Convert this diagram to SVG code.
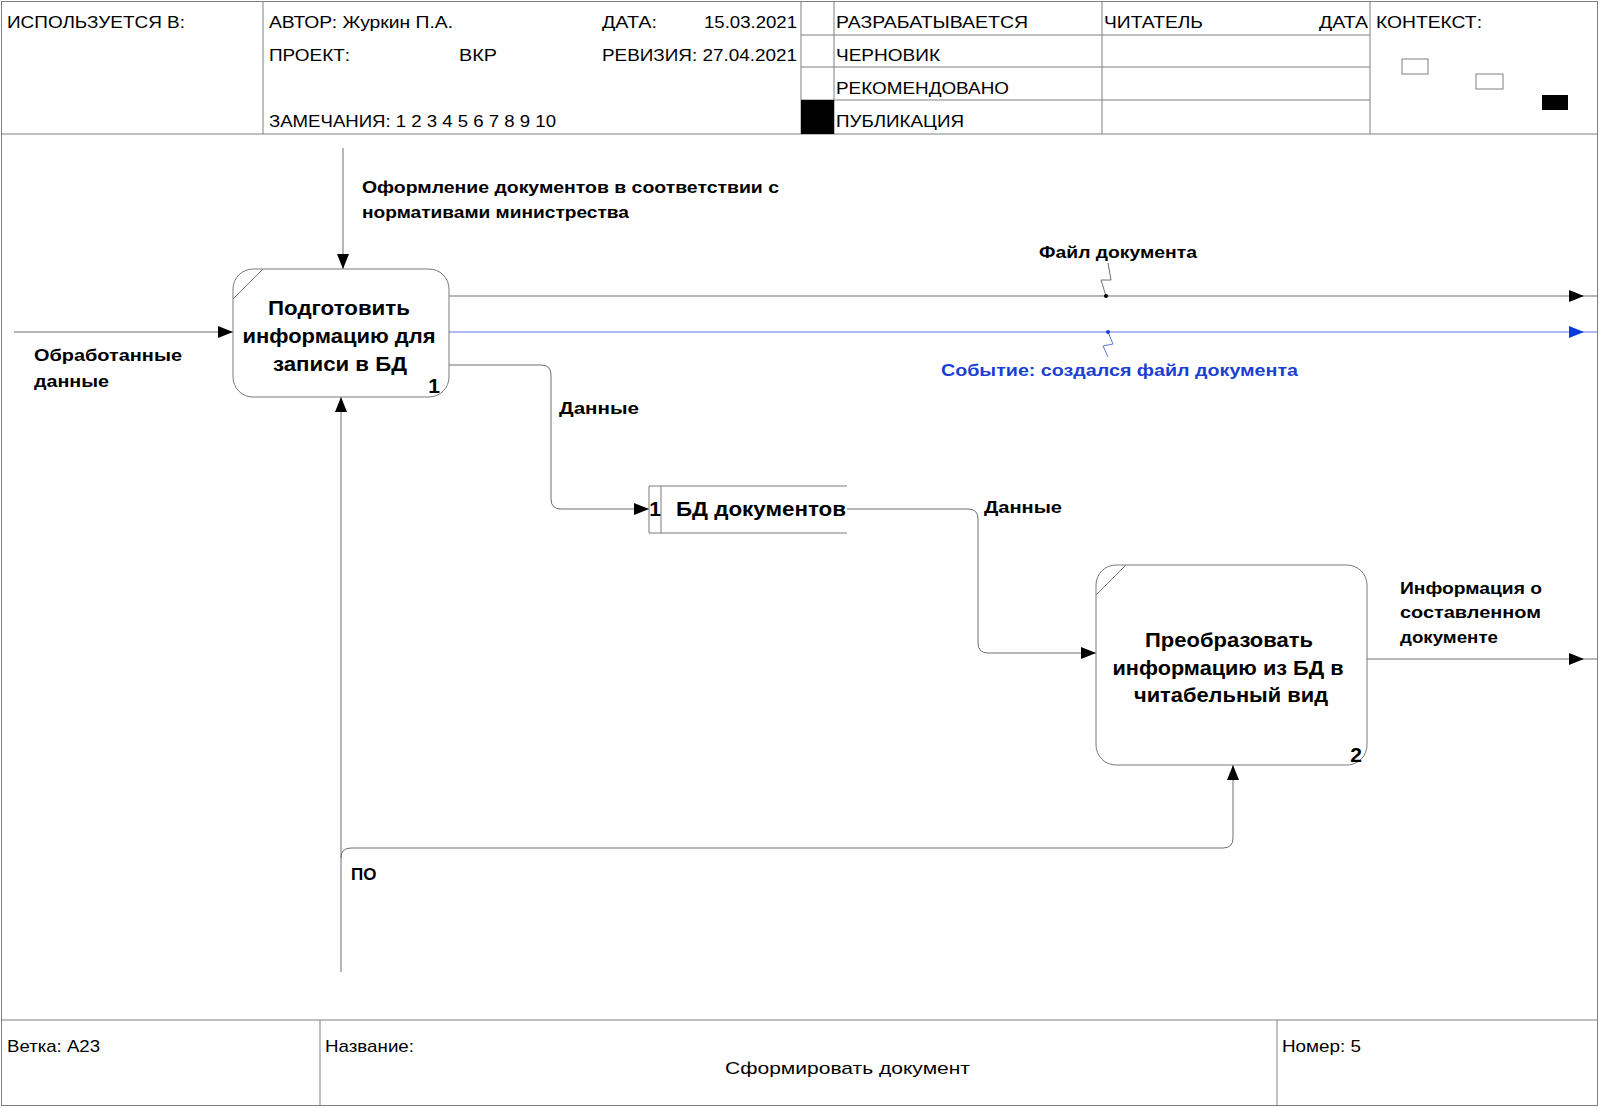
<svg xmlns="http://www.w3.org/2000/svg" width="1600" height="1108" viewBox="0 0 1600 1108">
  <style>
    .frame { fill: none; stroke: #808080; stroke-width: 1; }
    .hdr { font-family: "Liberation Sans", Arial, sans-serif; font-size: 17px; fill: #000; }
    .lbl { font-family: "Liberation Sans", Arial, sans-serif; font-size: 17px; font-weight: bold; fill: #000; }
    .node-text { font-family: "Liberation Sans", Arial, sans-serif; font-size: 21px; font-weight: bold; fill: #000; }
    .box { fill: #fff; stroke: #7a7a7a; stroke-width: 1; }
    .conn { fill: none; stroke: #6e6e6e; stroke-width: 1; }
    .conn-blue { fill: none; stroke: #5a78e6; stroke-width: 1; }
    .blue-lbl { font-family: "Liberation Sans", Arial, sans-serif; font-size: 17px; font-weight: bold; fill: #1a3fd2; }
  </style>
  <defs>
    <marker id="arrow" markerUnits="userSpaceOnUse" markerWidth="15" markerHeight="12" refX="15" refY="6" orient="auto">
      <path d="M0,0 L15,6 L0,12 z" fill="#000"/>
    </marker>
    <marker id="arrow-blue" markerUnits="userSpaceOnUse" markerWidth="15" markerHeight="12" refX="15" refY="6" orient="auto">
      <path d="M0,0 L15,6 L0,12 z" fill="#0b3ad6"/>
    </marker>
  </defs>

  <rect width="1600" height="1108" fill="#fff"/>

  <!-- Form frame: header, working area, footer -->
  <g id="frame">
    <rect class="frame" x="1.5" y="1.5" width="1596" height="1104"/>
    <line class="frame" x1="1" y1="134" x2="1598" y2="134"/>
    <line class="frame" x1="263" y1="1" x2="263" y2="134"/>
    <line class="frame" x1="801" y1="1" x2="801" y2="134"/>
    <line class="frame" x1="834" y1="1" x2="834" y2="134"/>
    <line class="frame" x1="1102" y1="1" x2="1102" y2="134"/>
    <line class="frame" x1="1370" y1="1" x2="1370" y2="134"/>
    <line class="frame" x1="801" y1="35" x2="1370" y2="35"/>
    <line class="frame" x1="801" y1="67" x2="1370" y2="67"/>
    <line class="frame" x1="801" y1="100" x2="1370" y2="100"/>
    <rect x="801" y="100" width="33" height="34" fill="#000"/>
    <rect x="1402" y="59" width="26" height="15" fill="#fff" stroke="#808080"/>
    <rect x="1476" y="74" width="27" height="15" fill="#fff" stroke="#808080"/>
    <rect x="1542" y="95" width="26" height="15" fill="#000"/>
    <line class="frame" x1="1" y1="1020" x2="1598" y2="1020"/>
    <line class="frame" x1="320" y1="1020" x2="320" y2="1106"/>
    <line class="frame" x1="1277" y1="1020" x2="1277" y2="1106"/>
  </g>

  <g id="header-text">
    <text class="hdr" x="7" y="28" textLength="178" lengthAdjust="spacingAndGlyphs">ИСПОЛЬЗУЕТСЯ В:</text>
    <text class="hdr" x="269" y="28" textLength="184" lengthAdjust="spacingAndGlyphs">АВТОР: Журкин П.А.</text>
    <text class="hdr" x="602" y="28" textLength="55" lengthAdjust="spacingAndGlyphs">ДАТА:</text>
    <text class="hdr" x="704" y="28" textLength="93" lengthAdjust="spacingAndGlyphs">15.03.2021</text>
    <text class="hdr" x="269" y="61" textLength="81" lengthAdjust="spacingAndGlyphs">ПРОЕКТ:</text>
    <text class="hdr" x="459" y="61" textLength="38" lengthAdjust="spacingAndGlyphs">ВКР</text>
    <text class="hdr" x="602" y="61" textLength="195" lengthAdjust="spacingAndGlyphs">РЕВИЗИЯ: 27.04.2021</text>
    <text class="hdr" x="269" y="127" textLength="287" lengthAdjust="spacingAndGlyphs">ЗАМЕЧАНИЯ: 1 2 3 4 5 6 7 8 9 10</text>
    <text class="hdr" x="836" y="28" textLength="192" lengthAdjust="spacingAndGlyphs">РАЗРАБАТЫВАЕТСЯ</text>
    <text class="hdr" x="836" y="61" textLength="104" lengthAdjust="spacingAndGlyphs">ЧЕРНОВИК</text>
    <text class="hdr" x="836" y="94" textLength="173" lengthAdjust="spacingAndGlyphs">РЕКОМЕНДОВАНО</text>
    <text class="hdr" x="836" y="127" textLength="128" lengthAdjust="spacingAndGlyphs">ПУБЛИКАЦИЯ</text>
    <text class="hdr" x="1104" y="28" textLength="99" lengthAdjust="spacingAndGlyphs">ЧИТАТЕЛЬ</text>
    <text class="hdr" x="1319" y="28" textLength="49" lengthAdjust="spacingAndGlyphs">ДАТА</text>
    <text class="hdr" x="1376" y="28" textLength="106" lengthAdjust="spacingAndGlyphs">КОНТЕКСТ:</text>
  </g>

  <g id="footer-text">
    <text class="hdr" x="7" y="1052" textLength="93" lengthAdjust="spacingAndGlyphs">Ветка: А23</text>
    <text class="hdr" x="325" y="1052" textLength="89" lengthAdjust="spacingAndGlyphs">Название:</text>
    <text class="hdr" x="725" y="1074" textLength="245" lengthAdjust="spacingAndGlyphs">Сформировать документ</text>
    <text class="hdr" x="1282" y="1052" textLength="79" lengthAdjust="spacingAndGlyphs">Номер: 5</text>
  </g>

  <!-- Connectors -->
  <g id="connectors">
    <!-- control -->
    <path class="conn" d="M343,148 V269" marker-end="url(#arrow)"/>
    <text class="lbl" x="362" y="193" textLength="417" lengthAdjust="spacingAndGlyphs">Оформление документов в соответствии с</text>
    <text class="lbl" x="362" y="218" textLength="267" lengthAdjust="spacingAndGlyphs">нормативами министрества</text>

    <!-- input -->
    <path class="conn" d="M14,332 H233" marker-end="url(#arrow)"/>
    <text class="lbl" x="34" y="361" textLength="148" lengthAdjust="spacingAndGlyphs">Обработанные</text>
    <text class="lbl" x="34" y="387" textLength="75" lengthAdjust="spacingAndGlyphs">данные</text>

    <!-- output: file -->
    <path class="conn" d="M449,296 H1584" marker-end="url(#arrow)"/>
    <path class="conn" d="M1584,296 H1598"/>
    <path class="conn" d="M1106,296 L1101,280 L1111,280 L1108,263"/>
    <circle cx="1106" cy="296" r="2" fill="#000"/>
    <text class="lbl" x="1039" y="258" textLength="158" lengthAdjust="spacingAndGlyphs">Файл документа</text>

    <!-- output: event -->
    <path class="conn-blue" d="M449,332 H1584" marker-end="url(#arrow-blue)"/>
    <path class="conn-blue" d="M1584,332 H1598"/>
    <path class="conn-blue" d="M1108,332 L1113,344 L1103,346 L1108,357"/>
    <circle cx="1108" cy="332" r="2" fill="#1a3fd2"/>
    <text class="blue-lbl" x="941" y="376" textLength="357" lengthAdjust="spacingAndGlyphs">Событие: создался файл документа</text>

    <!-- data into store -->
    <path class="conn" d="M449,365 H541 Q551,365 551,375 V499 Q551,509 561,509 H649" marker-end="url(#arrow)"/>
    <text class="lbl" x="559" y="414" textLength="80" lengthAdjust="spacingAndGlyphs">Данные</text>

    <!-- data out of store -->
    <path class="conn" d="M847,509 H968 Q978,509 978,519 V643 Q978,653 988,653 H1096" marker-end="url(#arrow)"/>
    <text class="lbl" x="984" y="513" textLength="78" lengthAdjust="spacingAndGlyphs">Данные</text>

    <!-- output of activity 2 -->
    <path class="conn" d="M1367,659 H1584" marker-end="url(#arrow)"/>
    <path class="conn" d="M1584,659 H1598"/>
    <text class="lbl" x="1400" y="594" textLength="142" lengthAdjust="spacingAndGlyphs">Информация о</text>
    <text class="lbl" x="1400" y="618" textLength="141" lengthAdjust="spacingAndGlyphs">составленном</text>
    <text class="lbl" x="1400" y="643" textLength="98" lengthAdjust="spacingAndGlyphs">документе</text>

    <!-- mechanism -->
    <path class="conn" d="M341,972 V397" marker-end="url(#arrow)"/>
    <path class="conn" d="M341,858 Q341,848 351,848 H1223 Q1233,848 1233,838 V765" marker-end="url(#arrow)"/>
    <text class="lbl" x="351" y="880">ПО</text>
  </g>

  <!-- Activity 1 -->
  <g id="node-a1">
    <rect class="box" x="233" y="269" width="216" height="128" rx="20" ry="20"/>
    <line class="box" x1="233" y1="299" x2="263" y2="269"/>
    <text class="node-text" x="339" y="315" text-anchor="middle" textLength="142" lengthAdjust="spacingAndGlyphs">Подготовить</text>
    <text class="node-text" x="339" y="343" text-anchor="middle" textLength="193" lengthAdjust="spacingAndGlyphs">информацию для</text>
    <text class="node-text" x="340" y="371" text-anchor="middle" textLength="134" lengthAdjust="spacingAndGlyphs">записи в БД</text>
    <text class="node-text" x="434" y="393" text-anchor="middle">1</text>
  </g>

  <!-- Data store -->
  <g id="node-store">
    <path class="box" d="M847,486 H649 V533 H847"/>
    <line class="box" x1="661" y1="486" x2="661" y2="533"/>
    <text class="node-text" x="655" y="516" text-anchor="middle">1</text>
    <text class="node-text" x="676" y="516" textLength="170" lengthAdjust="spacingAndGlyphs">БД документов</text>
  </g>

  <!-- Activity 2 -->
  <g id="node-a2">
    <rect class="box" x="1096" y="565" width="271" height="200" rx="20" ry="20"/>
    <line class="box" x1="1096" y1="595" x2="1126" y2="565"/>
    <text class="node-text" x="1229" y="647" text-anchor="middle" textLength="168" lengthAdjust="spacingAndGlyphs">Преобразовать</text>
    <text class="node-text" x="1228" y="675" text-anchor="middle" textLength="231" lengthAdjust="spacingAndGlyphs">информацию из БД в</text>
    <text class="node-text" x="1231" y="702" text-anchor="middle" textLength="194" lengthAdjust="spacingAndGlyphs">читабельный вид</text>
    <text class="node-text" x="1356" y="762" text-anchor="middle">2</text>
  </g>
</svg>
